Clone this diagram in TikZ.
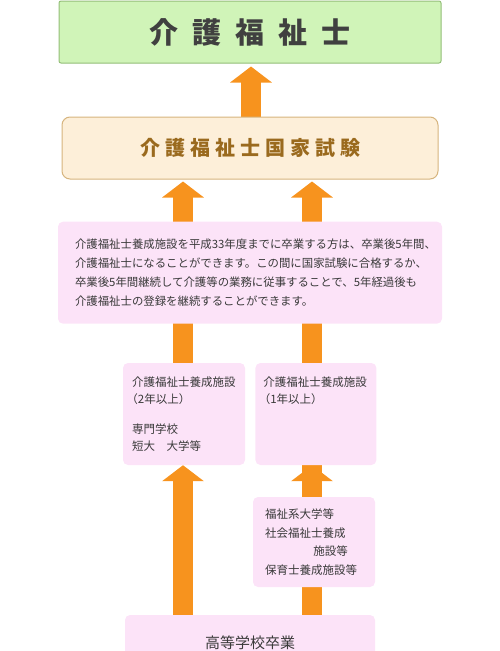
\documentclass[tikz,border=0pt]{standalone}
\usepackage{fontspec}
\newfontfamily\jp{Noto Sans CJK JP}
\usepackage{xcolor}
\usetikzlibrary{arrows.meta,positioning,backgrounds}

\definecolor{titlefill}{HTML}{D0F4B8}
\definecolor{titleline}{HTML}{93BE78}
\definecolor{titletext}{HTML}{404040}
\definecolor{examfill}{HTML}{FDEFD9}
\definecolor{examline}{HTML}{D6B47E}
\definecolor{examtext}{HTML}{9A6A1E}
\definecolor{boxpink}{HTML}{FCE3F8}
\definecolor{arroworange}{HTML}{F7931E}
\definecolor{bodytext}{HTML}{3A3A3A}

\begin{document}
\begin{tikzpicture}[x=1pt,y=-1pt,
  box/.style={fill=boxpink,rounded corners=5pt,inner ysep=0pt,align=left,text=bodytext},
  bigarrow/.style={line width=20pt,draw=arroworange,-{Triangle[width=41pt,length=16pt]}}]
  \useasboundingbox (0,0) rectangle (500,651);

  \node[fill=titlefill,draw=titleline,line width=1pt,rounded corners=2pt,
    minimum width=382pt,minimum height=62pt,text=titletext,
    font=\jp\bfseries\fontsize{29}{29}\selectfont] (title) at (250,32)
    {介\hspace{14pt}護\hspace{14pt}福\hspace{14pt}祉\hspace{14pt}士};
  \node[fill=examfill,draw=examline,line width=1pt,rounded corners=8pt,
    minimum width=376pt,minimum height=62pt,text=examtext,
    font=\jp\bfseries\fontsize{20}{20}\selectfont] (exam) [below=53pt of title]
    {介\hspace{5pt}護\hspace{5pt}福\hspace{5pt}祉\hspace{5pt}士\hspace{5pt}国\hspace{5pt}家\hspace{5pt}試\hspace{5pt}験};

  \node[box,text width=356pt,inner xsep=14pt,minimum height=102pt,
    font=\jp\fontsize{11.4}{19}\selectfont] (note) [below=42pt of exam]
    {\hspace*{3pt}介護福祉士養成施設を平成33年度までに卒業する方は、卒業後5年間、\\
     \hspace*{3pt}介護福祉士になることができます。この間に国家試験に合格するか、\\
     \hspace*{3pt}卒業後5年間継続して介護等の業務に従事することで、5年経過後も\\
     \hspace*{3pt}介護福祉士の登録を継続することができます。};

  \node[box,text width=106pt,inner xsep=8pt,minimum height=102pt,
    font=\jp\fontsize{11.5}{17}\selectfont] (twoyear) at (184,414)
    {\hspace*{1pt}介護福祉士養成施設\\\hspace*{-0.4em}（2年以上）\\[13pt]\hspace*{1pt}専門学校\\\hspace*{1pt}短大　大学等};
  \node[box,text width=105pt,inner xsep=8pt,minimum height=102pt,
    font=\jp\fontsize{11.5}{17}\selectfont] (oneyear) [right=10pt of twoyear]
    {介護福祉士養成施設\\\hspace*{-0.4em}（1年以上）\\[13pt]\mbox{}\\\mbox{}};

  \node[box,text width=98pt,inner xsep=12pt,minimum height=90pt,
    font=\jp\fontsize{11.5}{18.5}\selectfont] (welfare) at (314,542)
    {福祉系大学等\\社会福祉士養成\\\hspace*{4.2em}施設等\\保育士養成施設等};

  \node[box,minimum width=250pt,minimum height=55pt,align=center,
    font=\jp\fontsize{15}{15}\selectfont] (high) at (250,642.5) {高等学校卒業};

  % Arrows behind the boxes
  \begin{scope}[on background layer]
    \draw[bigarrow,shorten >=3pt] ([xshift=1pt]exam.north) -- ([xshift=1pt]title.south);
    \draw[bigarrow,shorten >=2pt] ([xshift=-1pt]twoyear.north) -- ([xshift=-1pt]twoyear.north |- exam.south);
    \draw[bigarrow,shorten >=2pt] (welfare.north -| 312,0) -- (exam.south -| 312,0);
    \draw[bigarrow] ([xshift=-1pt]twoyear.south |- high.north) -- ([xshift=-1pt]twoyear.south);
    \draw[bigarrow] (high.north -| 312,0) -- (oneyear.south -| 312,0);
  \end{scope}
\end{tikzpicture}
\end{document}
